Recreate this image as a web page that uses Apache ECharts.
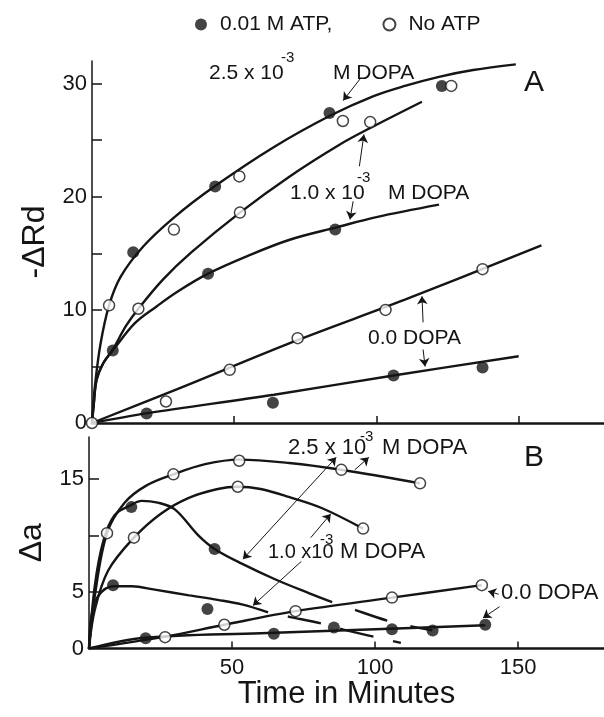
<!DOCTYPE html>
<html lang="en">
<head>
<meta charset="UTF-8">
<title>DOPA</title>
<style>html,body{margin:0;padding:0;background:#fff;}</style>
</head>
<body>
<div id="main" style="width:604px;height:717px;"></div>
<script src="https://cdn.jsdelivr.net/npm/echarts@6/dist/echarts.min.js"></script>
<script>
// ---- panel A : -ΔRd vs time ----
var atpA = [[7.3,6.4],[14.5,15.1],[19.2,0.85],[40.8,13.2],[43.3,20.9],[63.6,1.8],[83.5,27.4],[85.5,17.1],[106,4.2],[123,29.8],[137.3,4.9]];
var noAtpA = [[0,0],[6,10.4],[16.3,10.1],[26,1.9],[28.8,17.1],[48.4,4.7],[51.8,21.8],[52,18.6],[72.3,7.5],[88.2,26.7],[97.8,26.6],[103.2,10.0],[126.3,29.8],[137.3,13.6]];
// fitted curves
var curveA25 = [[0,0],[1,3.2],[3,7],[6,10.4],[10,12.9],[18,15.6],[29,18.2],[43,20.9],[64,24.4],[84,27.2],[99,28.9],[110,29.8],[122,30.6],[134,31.2],[149,31.7]];
var curveA10 = [[0,0],[0.6,1.6],[1.6,3.8],[4,5.3],[7.3,6.5],[12,8.6],[16.3,10.1],[25,12.7],[35,15.1],[52,18.6],[69.5,21.8],[87,24.6],[98,26.1],[116,28.4]];
var curveA10atp = [[0,0],[0.6,1.6],[1.6,3.8],[4,5.3],[7.3,6.4],[15,8.8],[22.7,10.3],[30,11.6],[40.8,13.2],[55,14.8],[69.5,16.2],[86,17.3],[100,18.2],[122,19.3]];
var curveA0 = [[0,0],[30,3.0],[72,7.3],[110,10.9],[158,15.7]];
var curveA0atp = [[0,0],[19,0.85],[64,2.5],[106,4.2],[150,5.9]];

// ---- panel B : Δa vs time ----
var atpB = [[8.4,5.6],[14.8,12.5],[19.8,0.9],[41.4,3.5],[43.9,8.8],[64.6,1.3],[85.6,1.85],[105.9,1.7],[120.1,1.6],[138.5,2.1]];
var noAtpB = [[6.3,10.2],[15.7,9.8],[26.6,1.0],[29.5,15.4],[47.3,2.1],[52,14.3],[52.5,16.6],[72.2,3.3],[88.2,15.8],[95.8,10.6],[105.9,4.5],[115.7,14.6],[137.3,5.6]];
var curveB25 = [[0,0],[2,4.6],[6.3,10.2],[12.5,12.9],[20,14.4],[29.5,15.4],[40.6,16.3],[52.5,16.7],[70,16.4],[88.2,15.8],[115.7,14.6]];
var curveB25atp = [[0,0],[2,5.5],[5,9.5],[9,11.8],[14.8,12.7],[18.4,13.05],[24,12.9],[30,12.3],[38.2,10.0],[43.9,8.8],[53.4,7.5],[65.2,6.1],[76.8,4.9],[85,4.1]];
var curveB25atpTail = [[85,4.1],[92,3.5],[103.8,2.5],[112,2.0],[120,1.6]];
var curveB10 = [[0,0],[2,3.4],[6.7,6.9],[15.7,9.8],[25,11.9],[34.7,13.3],[45,14.1],[52,14.3],[60,14.1],[69.8,13.4],[81.5,12.4],[95.8,10.6]];
var curveB10atp = [[0,0],[0.8,2.8],[3.1,4.6],[8.4,5.5],[15,5.5],[23,5.2],[35,4.7],[45,4.3],[53.4,3.9],[62.6,3.2]];
var curveB10atpTail = [[62.6,3.2],[70,2.8],[81.5,2.2],[90,1.6],[109,0.5]];
var curveB0 = [[0,0],[26.6,1.05],[47.3,2.1],[72.2,3.3],[105.9,4.5],[137.3,5.6]];
var curveB0atp = [[0,0],[19.5,0.95],[60,1.35],[100,1.7],[138.5,2.05]];

// ticks / labels
var xTicks = [50, 100, 150];
var xLabelsB = [50, 100, 150];
var yTicksA = [5, 10, 15, 20, 25, 30];
var yLabelsA = [0, 10, 20, 30];
var yTicksB = [5, 10, 15];
var yLabelsB = [0, 5, 15];

// annotation arrows [from, to, headAtStart]
var arrowsA = [
    [[94.2,30.4],[88.3,28.5],false],
    [[94.0,22.7],[95.6,25.5],false],
    [[91.8,19.6],[90.7,18.0],false],
    [[116.4,8.9],[116.0,11.2],false],
    [[116.4,6.5],[117.1,5.0],false]
];
var arrowsB = [
    [[86.4,16.9],[53.8,7.9],true],
    [[92.9,15.8],[97.8,16.9],false],
    [[77.5,9.8],[84.5,11.9],false],
    [[74.2,7.7],[57.3,3.8],false],
    [[143.2,4.8],[139.5,5.06],false],
    [[143.5,3.7],[137.7,2.7],false]
];

var FONT = '"Liberation Sans", Arial, sans-serif';
var INK = '#151515';

function toMarks(list) {
    return list.map(function (a) {
        return [
            {coord: a[0], symbol: a[2] ? 'arrow' : 'none'},
            {coord: a[1], symbol: 'arrow'}
        ];
    });
}

function curve(data, idx, dash, marks) {
    var s = {
        type: 'line',
        xAxisIndex: idx,
        yAxisIndex: idx,
        data: data,
        smooth: 0.35,
        showSymbol: false,
        silent: true,
        z: 2,
        lineStyle: {color: INK, width: 2.4}
    };
    if (dash) {
        s.lineStyle.type = dash;
        s.lineStyle.dashOffset = dash[0];
    }
    if (marks) {
        s.markLine = {
            silent: true,
            symbolSize: 8,
            label: {show: false},
            lineStyle: {color: INK, width: 1, type: 'solid'},
            data: toMarks(marks)
        };
    }
    return s;
}

function dots(name, data, idx, open) {
    return {
        name: name,
        type: 'scatter',
        xAxisIndex: idx,
        yAxisIndex: idx,
        data: data,
        z: 5,
        symbolSize: open ? 11 : 12,
        itemStyle: open ? {color: '#fff', borderColor: INK, borderWidth: 1.5} : {color: INK}
    };
}

function xAxis(idx, labels) {
    return {
        gridIndex: idx, type: 'value', min: 0, max: 180,
        axisLine: {show: true, lineStyle: {color: INK, width: 2.5}},
        axisTick: {show: true, inside: true, length: 7, customValues: xTicks, lineStyle: {color: INK, width: 1.5}},
        axisLabel: labels ? {customValues: labels, color: INK, fontSize: 22, fontFamily: FONT, margin: 8} : {show: false},
        splitLine: {show: false},
        name: labels ? 'Time in Minutes' : '',
        nameLocation: 'middle',
        nameGap: 24,
        nameTextStyle: {color: INK, fontSize: 31, fontFamily: FONT}
    };
}

function yAxis(idx, max, ticks, labels, name) {
    return {
        gridIndex: idx, type: 'value', min: 0, max: max,
        axisLine: {show: true, lineStyle: {color: INK, width: 1.5}},
        axisTick: {show: true, inside: true, length: 10, customValues: ticks, lineStyle: {color: INK, width: 1.5}},
        axisLabel: {customValues: labels, color: INK, fontSize: 22, fontFamily: FONT, margin: 5},
        splitLine: {show: false},
        name: name,
        nameLocation: 'middle',
        nameGap: 36,
        nameTextStyle: {color: INK, fontSize: 32, fontFamily: FONT}
    };
}

function txt(s, x, y, size) {
    return {
        type: 'text', silent: true, z: 10,
        style: {text: s, x: x, y: y, fill: INK, font: (size || 21) + 'px ' + FONT, verticalAlign: 'middle'}
    };
}

var chart = echarts.init(document.getElementById('main'));

var option = {
    animation: false,
    backgroundColor: '#fff',
    legend: {
        top: 9, left: 190, itemGap: 50, itemWidth: 12, itemHeight: 12,
        data: ['0.01 M ATP,', 'No ATP'],
        textStyle: {color: INK, fontSize: 21, fontFamily: FONT, padding: [0, 0, 0, 8]}
    },
    grid: [
        {left: 92, right: 0, top: 61, bottom: 294},
        {left: 89, right: 0, top: 437, bottom: 68.5}
    ],
    xAxis: [xAxis(0, null), xAxis(1, xLabelsB)],
    yAxis: [
        yAxis(0, 32, yTicksA, yLabelsA, '-\u0394Rd'),
        yAxis(1, 18.7, yTicksB, yLabelsB, '\u0394a')
    ],
    graphic: [
        txt('2.5 x 10', 209, 73), txt('-3', 281, 58, 15), txt('M DOPA', 333, 73),
        txt('1.0 x 10', 290, 193), txt('-3', 357, 178, 15), txt('M DOPA', 388, 193),
        txt('0.0 DOPA', 368, 338),
        txt('A', 524, 83, 30),
        txt('2.5 x 10', 288, 448, 22), txt('-3', 360, 437, 15), txt('M DOPA', 382, 448, 22),
        txt('1.0 x10', 268, 552, 20), txt('-3', 320, 540, 15), txt('M DOPA', 340, 552, 22),
        txt('0.0 DOPA', 501, 593, 22),
        txt('B', 524, 458, 30)
    ],
    series: [
        curve(curveA25, 0, null, arrowsA),
        curve(curveA10, 0),
        curve(curveA10atp, 0),
        curve(curveA0, 0),
        curve(curveA0atp, 0),
        dots('0.01 M ATP,', atpA, 0, false),
        dots('No ATP', noAtpA, 0, true),

        curve(curveB25, 1, null, arrowsB),
        curve(curveB25atp, 1),
        curve(curveB25atpTail, 1, [34, 24]),
        curve(curveB10, 1),
        curve(curveB10atp, 1),
        curve(curveB10atpTail, 1, [34, 20]),
        curve(curveB0, 1),
        curve(curveB0atp, 1),
        dots('0.01 M ATP,', atpB, 1, false),
        dots('No ATP', noAtpB, 1, true)
    ]
};

chart.setOption(option);
</script>
</body>
</html>
